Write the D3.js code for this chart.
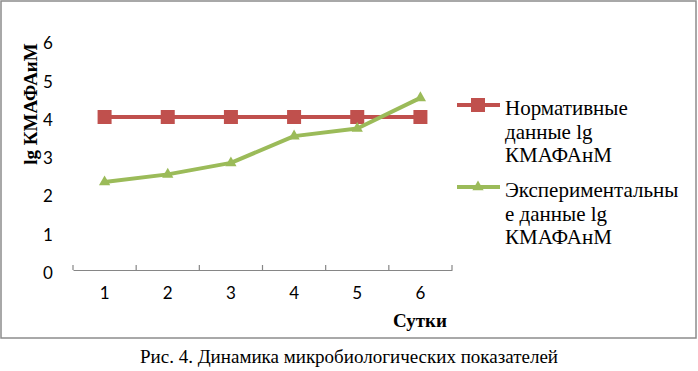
<!DOCTYPE html>
<html>
<head>
<meta charset="utf-8">
<script src="https://cdn.jsdelivr.net/npm/d3@7"></script>
<style>
  body { margin: 0; background: #fff; }
  svg { display: block; }
</style>
</head>
<body>
<svg id="chart" width="698" height="371"></svg>
<script>
// data
const days = ["1", "2", "3", "4", "5", "6"];
const normValues = [4.0, 4.0, 4.0, 4.0, 4.0, 4.0];
const expValues = [2.3, 2.5, 2.8, 3.5, 3.7, 4.5];
const yTicks = [0, 1, 2, 3, 4, 5, 6];
const seriesNames = [
  ["Нормативные", "данные lg", "КМАФАнМ"],
  ["Экспериментальны", "е данные lg", "КМАФАнМ"]
];
const seriesColors = ["#c0504d", "#9bbb59"];

const svg = d3.select("#chart");

// outer frame of the chart
svg.append("rect")
  .attr("x", 1).attr("y", 1)
  .attr("width", 695).attr("height", 337)
  .attr("fill", "none")
  .attr("stroke", "#8c8c8c")
  .attr("stroke-width", 1.5);

// scales
const xScale = d3.scaleBand()
  .domain(days)
  .range([73, 452]);
const yScale = d3.scaleLinear()
  .domain([0, 6])
  .range([270, 40.5]);

// x axis, ticks pointing up
const xAxis = d3.axisBottom(xScale).tickSizeInner(0).tickSizeOuter(0).tickPadding(17);
const gx = svg.append("g").attr("transform", "translate(0,270)").call(xAxis);
gx.select(".domain").attr("stroke", "#868686").attr("stroke-width", 1.2);
gx.selectAll("text")
  .attr("font-family", "Lato, 'Open Sans', sans-serif")
  .attr("font-size", 17)
  .attr("fill", "#000");
// category boundary ticks
const bounds = days.map(d => xScale(d)).concat([xScale.range()[1]]);
gx.selectAll(".bound")
  .data(bounds)
  .enter()
  .append("line")
  .attr("x1", d => d).attr("x2", d => d)
  .attr("y1", 0).attr("y2", -5)
  .attr("stroke", "#868686")
  .attr("stroke-width", 1.2);

// y axis labels only
const yAxis = d3.axisLeft(yScale).tickValues(yTicks).tickFormat(d3.format("d")).tickSize(0);
const gy = svg.append("g").attr("transform", "translate(60,3)").call(yAxis);
gy.select(".domain").remove();
gy.selectAll("text")
  .attr("font-family", "Lato, 'Open Sans', sans-serif")
  .attr("font-size", 17)
  .attr("fill", "#000")
  .attr("text-anchor", "middle")
  .attr("x", -12);

const cx = d => xScale(d) + xScale.bandwidth() / 2;
const line = d3.line().x(d => cx(d[0])).y(d => yScale(d[1]));

// red series
svg.append("path")
  .datum(days.map((d, i) => [d, normValues[i]]))
  .attr("d", line)
  .attr("fill", "none")
  .attr("stroke", seriesColors[0])
  .attr("stroke-width", 4);
svg.selectAll(".sq")
  .data(days.map((d, i) => [d, normValues[i]]))
  .enter()
  .append("rect")
  .attr("x", d => cx(d[0]) - 7)
  .attr("y", d => yScale(d[1]) - 7)
  .attr("width", 14).attr("height", 14)
  .attr("fill", seriesColors[0]);

// green series
const tri = d3.symbol().type(d3.symbolTriangle).size(55);
svg.append("path")
  .datum(days.map((d, i) => [d, expValues[i]]))
  .attr("d", line)
  .attr("fill", "none")
  .attr("stroke", seriesColors[1])
  .attr("stroke-width", 4)
  .attr("stroke-linejoin", "round");
svg.selectAll(".tri")
  .data(days.map((d, i) => [d, expValues[i]]))
  .enter()
  .append("path")
  .attr("d", tri)
  .attr("transform", d => "translate(" + cx(d[0]) + "," + yScale(d[1]) + ")")
  .attr("fill", seriesColors[1]);

// legend
const legendY = [105, 187];
seriesNames.forEach((lines, i) => {
  const g = svg.append("g");
  g.append("line")
    .attr("x1", 457).attr("x2", 500)
    .attr("y1", legendY[i]).attr("y2", legendY[i])
    .attr("stroke", seriesColors[i]).attr("stroke-width", 4);
  if (i === 0) {
    g.append("rect")
      .attr("x", 471).attr("y", legendY[i] - 7)
      .attr("width", 14).attr("height", 14)
      .attr("fill", seriesColors[i]);
  } else {
    g.append("path")
      .attr("d", tri)
      .attr("transform", "translate(478," + legendY[i] + ")")
      .attr("fill", seriesColors[i]);
  }
  g.append("text")
    .attr("x", 505)
    .attr("y", legendY[i] + 10)
    .attr("font-family", "'Liberation Serif', 'Times New Roman', serif")
    .attr("font-size", 21)
    .selectAll("tspan")
    .data(lines)
    .enter()
    .append("tspan")
    .attr("x", 505)
    .attr("dy", (d, j) => j === 0 ? 0 : 23.5)
    .text(d => d);
});

// axis titles
svg.append("text")
  .attr("transform", "translate(37,104) rotate(-90)")
  .attr("text-anchor", "middle")
  .attr("font-family", "'Liberation Serif', 'Times New Roman', serif")
  .attr("font-weight", "bold")
  .attr("font-size", 19)
  .text("lg КМАФАиМ");

svg.append("text")
  .attr("x", 447).attr("y", 327)
  .attr("text-anchor", "end")
  .attr("font-family", "'Liberation Serif', 'Times New Roman', serif")
  .attr("font-weight", "bold")
  .attr("font-size", 19)
  .text("Сутки");

// caption
svg.append("text")
  .attr("x", 349).attr("y", 363)
  .attr("text-anchor", "middle")
  .attr("font-family", "'Liberation Serif', 'Times New Roman', serif")
  .attr("font-size", 19)
  .text("Рис. 4. Динамика микробиологических показателей");
</script>
</body>
</html>
